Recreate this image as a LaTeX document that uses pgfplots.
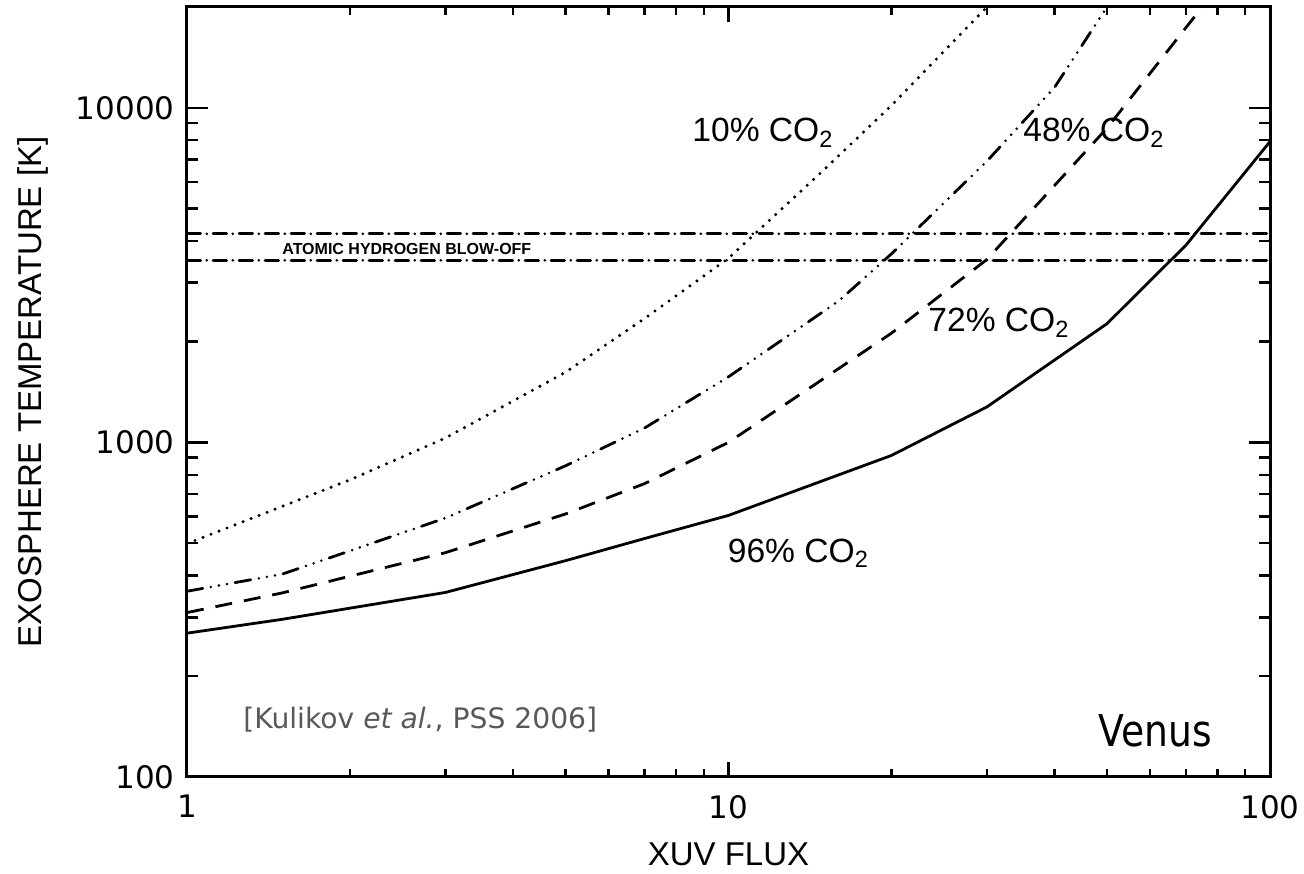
\documentclass[border=0pt]{standalone}
\usepackage{pgfplots}
\usepackage{pgfplotstable}
\pgfplotsset{compat=1.18}
\usepackage{fontspec}
\setmainfont{Liberation Sans}
\newfontfamily\vfont{DejaVu Sans}
\newfontfamily\vnarrow[FakeStretch=0.86]{DejaVu Sans}
\definecolor{citegray}{RGB}{88,88,88}

% Exosphere temperature [K] versus XUV flux for four CO2 mixing ratios
\pgfplotstableread{
x     T
1     498
1.5   644
2     773
3     1030
5     1620
7     2345
10    3550
15    6520
20    10160
30    20000
}\coten

\pgfplotstableread{
x     T
1     359
1.5   404
3     594
5     851
7     1104
10    1570
16    2650
20    3660
30    6920
40    11500
50    20000
}\cofortyeight

\pgfplotstableread{
x     T
1     310
1.5   355
3     468
5     611
7     753
10    1000
20    2120
30    3520
50    8690
70    17380
100   36000
}\coseventytwo

\pgfplotstableread{
x     T
1     269
1.5   296
3     356
5     443
7     516
10    605
20    914
30    1276
50    2263
70    3890
100   7925
}\coninetysix

\begin{document}
\begin{tikzpicture}
\useasboundingbox (-93.5pt,-48pt) rectangle (558.5pt,388.5pt);
\begin{axis}[
  at={(0pt,0pt)}, anchor=south west,
  xmode=log, ymode=log,
  scale only axis, width=541.5pt, height=385pt,
  xmin=1, xmax=100, ymin=100, ymax=20000,
  xtick={1,10,100}, xticklabels={1,10,100},
  ytick={100,1000,10000}, yticklabels={100,1000,10000},
  /pgf/number format/assume math mode=true,
  axis line style={line width=1.5pt},
  tick style={black, line width=1.2pt},
  xtick style={/pgfplots/major tick length=7.5pt, /pgfplots/minor tick length=4pt},
  ytick style={/pgfplots/major tick length=10.5pt, /pgfplots/minor tick length=5.5pt},
  ticklabel style={font=\vfont\fontsize{15.5}{18}\selectfont},
  xticklabel style={anchor=north, inner sep=0pt, yshift=-9pt},
  yticklabel style={anchor=east, inner sep=0pt, xshift=-6pt},
  xlabel={XUV FLUX},
  ylabel={EXOSPHERE TEMPERATURE [K]},
  label style={font=\fontsize{16.5}{19}\selectfont},
  xlabel style={at={(axis description cs:0.5,0)}, anchor=base, yshift=-44pt, inner sep=0pt},
  ylabel style={at={(axis description cs:0,0.5)}, anchor=base, yshift=72.5pt, inner sep=0pt},
]
% atomic hydrogen blow-off limits
\addplot[black, line width=1.4pt, line cap=round,
  dash pattern=on 6.8pt off 3.1pt on 0pt off 3.1pt] coordinates {(1,3500) (100,3500)};
\addplot[black, line width=1.4pt, line cap=round,
  dash pattern=on 6.8pt off 3.1pt on 0pt off 3.1pt] coordinates {(1,4200) (100,4200)};

% 10% CO2: dotted
\addplot[black, line width=1.7pt, line cap=round,
  dash pattern=on 0pt off 4.3pt] table[x=x, y=T] {\coten};
% 48% CO2: dash-dot-dot-dot
\addplot[black, line width=1.4pt, line cap=round,
  dash pattern=on 8pt off 4.1pt on 0pt off 4.1pt on 0pt off 4.1pt on 0pt off 4.1pt]
  table[x=x, y=T] {\cofortyeight};
% 72% CO2: dashed
\addplot[black, line width=1.4pt, dash pattern=on 8.5pt off 6pt] table[x=x, y=T] {\coseventytwo};
% 96% CO2: solid
\addplot[black, line width=1.4pt] table[x=x, y=T] {\coninetysix};

\node[anchor=base west, inner sep=0pt, font=\fontsize{16.8}{20}\selectfont]
  at (rel axis cs:0.4663,0.8247) {10\% CO\textsubscript{2}};
\node[anchor=base west, inner sep=0pt, font=\fontsize{16.8}{20}\selectfont]
  at (rel axis cs:0.7719,0.8247) {48\% CO\textsubscript{2}};
\node[anchor=base west, inner sep=0pt, font=\fontsize{16.8}{20}\selectfont]
  at (rel axis cs:0.6842,0.578) {72\% CO\textsubscript{2}};
\node[anchor=base west, inner sep=0pt, font=\fontsize{16.8}{20}\selectfont]
  at (rel axis cs:0.499,0.279) {96\% CO\textsubscript{2}};

\node[anchor=base west, inner sep=0pt, font=\bfseries\fontsize{8}{10}\selectfont]
  at (rel axis cs:0.0877,0.678) {ATOMIC HYDROGEN BLOW-OFF};

\node[anchor=base west, inner sep=0pt, text=citegray, font=\vfont\fontsize{14.1}{17}\selectfont]
  at (rel axis cs:0.0517,0.0636) {[Kulikov \textit{et al.}, PSS 2006]};
\node[anchor=base east, inner sep=0pt, font=\vnarrow\fontsize{21.9}{26}\selectfont]
  at (rel axis cs:0.9465,0.039) {Venus};
\end{axis}
\end{tikzpicture}
\end{document}
